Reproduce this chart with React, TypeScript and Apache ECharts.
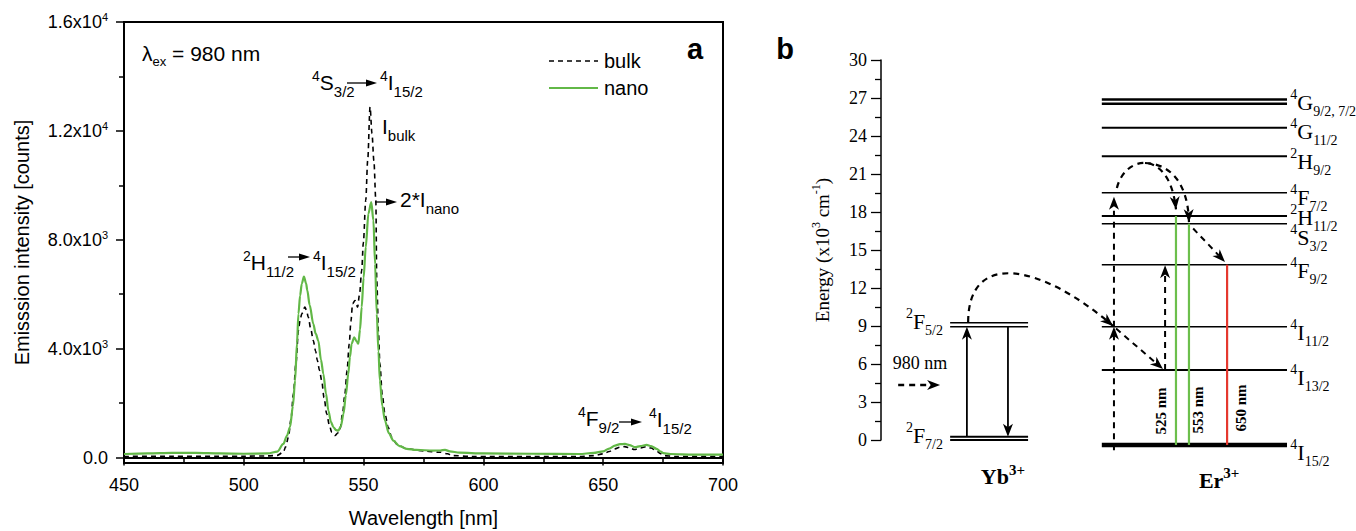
import { useEffect, useRef } from 'react';
import * as echarts from 'echarts';

const SANS = '"Liberation Sans", Arial, Helvetica, sans-serif';
const SERIF = '"Liberation Serif", "Times New Roman", Times, serif';
const SPEC_GREEN = '#62b847';
const LINE_GREEN = '#6cbf4c';
const LINE_RED = '#e5382e';
const diagramColors = ['#000000', LINE_GREEN, LINE_RED];

// ---------- Panel a: emission spectra ----------
const bulkWavelength = [450, 470, 490, 500, 510, 514, 516.5, 517.5, 518.6, 519.7, 520.7, 521.8, 522.8, 523.5, 524.2, 525.5, 526.2, 526.9, 528, 529, 530, 530.7, 531.6, 532.5, 533.5, 534.6, 535.7, 536.7, 538.1, 539.2, 540.2, 541.2, 542.2, 543.1, 544.0, 544.7, 545.4, 546.4, 547.5, 548.3, 549.2, 549.9, 550.9, 551.7, 552.7, 553.5, 554.3, 555.1, 555.5, 556.2, 556.8, 557.8, 558.9, 560.3, 561.7, 564, 568, 575, 582, 585, 587, 595, 620, 640, 646, 650, 652.5, 654.9, 657, 659, 661, 663, 665.5, 668, 670, 672, 674, 675, 680, 700];
const bulkIntensity = [40, 50, 50, 50, 60, 80, 200, 400, 746, 1400, 2340, 3500, 4670, 5050, 5280, 5525, 5400, 5160, 4700, 4300, 3900, 3566, 3200, 2830, 2200, 1606, 1200, 930, 810, 900, 1055, 1600, 2340, 3200, 4180, 5000, 5650, 5770, 5525, 6000, 6870, 7900, 9450, 10900, 12880, 11900, 10900, 9450, 6500, 4600, 3444, 2300, 1606, 1100, 746, 480, 320, 240, 195, 140, 73, 40, 40, 40, 70, 135, 220, 320, 380, 400, 360, 295, 350, 400, 350, 257, 140, 75, 40, 40];
const nanoWavelength = [450, 460, 470, 480, 490, 500, 510, 514, 516.5, 518, 519.3, 520.5, 521.4, 522.2, 522.8, 523.5, 524.2, 525.1, 526.0, 526.5, 527.5, 529, 530, 531.1, 532.2, 533.2, 534.3, 535.3, 536.4, 537.4, 538.5, 539.5, 540.5, 541.6, 542.6, 543.6, 544.3, 545.0, 546.1, 547.0, 547.8, 548.5, 549.2, 550.0, 550.9, 552.0, 553.2, 554.1, 554.8, 555.5, 556.2, 556.8, 557.8, 558.9, 560.5, 562.4, 565, 568, 572, 579, 582, 584, 586, 590, 600, 620, 640, 646, 650, 652.5, 654.9, 657, 659.1, 661, 663.3, 665.5, 668.1, 670, 672.3, 674, 675.1, 678, 687.6, 700];
const nanoIntensity = [130, 150, 170, 170, 150, 140, 150, 220, 500, 800, 1115, 1900, 2830, 4200, 5280, 5950, 6385, 6650, 6400, 6140, 5600, 4915, 4550, 4300, 3600, 3077, 2350, 1728, 1300, 1114, 1010, 990, 1150, 1606, 2300, 3077, 3700, 4180, 4420, 4280, 4180, 4700, 5525, 6600, 7730, 8960, 9380, 8710, 7100, 5280, 3900, 2830, 1900, 1360, 900, 625, 420, 320, 280, 257, 260, 280, 230, 180, 150, 140, 130, 170, 230, 330, 440, 490, 500, 460, 380, 420, 465, 420, 320, 220, 160, 130, 110, 110];

const yTickValues = [0, 4000, 8000, 12000, 16000];
const yTickLabels = ['0.0', '4.0x10^3', '8.0x10^3', '1.2x10^4', '1.6x10^4'];
const yMinorTickValues = [2000, 6000, 10000, 14000];
const legendNames = ['bulk', 'nano'];

// ---------- Panel b: energy level diagram ----------
const ybSpan = [16.5, 35.1];
const ybLevelEnergy = [9.26, 8.94, 0.26, 0];
const ybLevelWidth = [1.5, 1.5, 2, 2];
const ybLabels = [['2', 'F', '5/2'], ['2', 'F', '7/2']];
const ybLabelEnergy = [9.36, 0.32];

const erSpan = [52.7, 96.9];
const erLevelEnergy = [26.88, 26.55, 24.65, 22.4, 19.52, 17.68, 17.08, 13.84, 8.94, 5.53, -0.39];
const erLevelWidth = [2.5, 2.5, 2, 2, 1.5, 2, 1.5, 1.5, 1.5, 2, 4.5];
const erLabels = [['4', 'G', '9/2, 7/2'], ['4', 'G', '11/2'], ['2', 'H', '9/2'], ['4', 'F', '7/2'], ['2', 'H', '11/2'], ['4', 'S', '3/2'], ['4', 'F', '9/2'], ['4', 'I', '11/2'], ['4', 'I', '13/2'], ['4', 'I', '15/2']];
const erLabelEnergy = [26.61, 24.39, 21.95, 19.15, 17.55, 16.0, 13.42, 8.45, 4.97, -0.95];

// [x1, E1, x2, E2, dashed, colour, arrowhead, width]
const transitions = [
  [20.5, 0.26, 20.5, 8.94, 0, 0, 1, 1.8],
  [30.3, 8.94, 30.3, 0.26, 0, 0, 1, 1.8],
  [4.1, 4.34, 14.1, 4.34, 1, 0, 1, 2.4],
  [70.4, -0.39, 70.4, 17.68, 0, 1, 0, 2.2],
  [73.5, -0.39, 73.5, 17.08, 0, 1, 0, 2.2],
  [82.6, -0.39, 82.6, 13.84, 0, 2, 0, 2.2],
  [55.6, -0.8, 55.6, 8.94, 1, 0, 1, 2],
  [55.6, 8.94, 55.6, 19.2, 1, 0, 1, 2],
  [67.8, 5.53, 67.8, 13.8, 1, 0, 1, 2],
  [56.1, 8.8, 67.3, 5.6, 1, 0, 1, 2],
  [74.5, 16.7, 82.1, 14.05, 1, 0, 1, 2],
];
// cubic energy-transfer arcs: [x0, E0, cx1, cE1, cx2, cE2, x3, E3]
const transferArcs = [
  [20.8, 9.3, 20.8, 14.97, 37.9, 14.0, 55.4, 9.0],
  [56.3, 19.9, 58.2, 22.5, 68.9, 23.1, 70.4, 18.2],
  [63.0, 21.87, 69.5, 21.8, 73.3, 20.1, 73.5, 17.2],
];
const emissionLabels = ['525 nm', '553 nm', '650 nm'];
const emissionLabelPos = [[66.8, 2.29], [75.7, 2.37], [85.9, 2.53]];
const ionLabels = [['Yb', '3+'], ['Er', '3+']];
const ionLabelPos = [[29.1, -2.92], [80.7, -3.16]];
const pumpLabelPos = [9.3, 6.08];

type Cfg = { M: number; P: number; S: number; a: number; b: number; family: string; weight?: string };
let measureCtx: CanvasRenderingContext2D | null = null;
function measure(t: string, size: number, family: string, weight = 'normal') {
  if (!measureCtx) measureCtx = document.createElement('canvas').getContext('2d');
  if (!measureCtx) return t.length * size * 0.5;
  measureCtx.font = `${weight} ${size}px ${family}`;
  return measureCtx.measureText(t).width;
}
// segments: [kind, text] with kind 'm' (main), 'p' (superscript), 's' (subscript)
function scripted(x: number, y: number, segs: string[][], cfg: Cfg, align = 'left'): any[] {
  const w = cfg.weight || 'normal';
  const info = segs.map(([k, t]) => {
    const size = k === 'p' ? cfg.P : k === 's' ? cfg.S : cfg.M;
    const dy = k === 'p' ? -cfg.a : k === 's' ? cfg.b : 0;
    return { t, size, dy, width: measure(t, size, cfg.family, w) };
  });
  const total = info.reduce((s, i) => s + i.width, 0);
  let cx = align === 'right' ? x - total : align === 'center' ? x - total / 2 : x;
  return info.map((i) => {
    const el = { type: 'text', x: cx, y: y + i.dy, style: { text: i.t, fill: '#000', fontSize: i.size, fontFamily: cfg.family, fontWeight: w, align: 'left', verticalAlign: 'middle' } };
    cx += i.width;
    return el;
  });
}
const lvl = (t: string[]) => [['p', t[0]], ['m', t[1]], ['s', t[2]]];

function richSet(M: number, P: number, a: number, family: string) {
  const H = Math.max(M, 2 * (a + P / 2));
  const supPad = H / 2 + a - P / 2;
  return {
    m: { fontSize: M, fontFamily: family, lineHeight: H, verticalAlign: 'middle', color: '#000' },
    p: { fontSize: P, fontFamily: family, padding: [0, 0, supPad, 0], verticalAlign: 'bottom', color: '#000' },
  };
}

function head(tip: number[], ux: number, uy: number, L: number, W: number, color: string, notch = 0.72) {
  const nx = -uy, ny = ux;
  const bx = tip[0] - ux * L, by = tip[1] - uy * L;
  return {
    type: 'polygon',
    shape: { points: [[tip[0], tip[1]], [bx + nx * W, by + ny * W], [tip[0] - ux * L * notch, tip[1] - uy * L * notch], [bx - nx * W, by - ny * W]] },
    style: { fill: color },
  };
}

function hArrow(x1: number, y: number, x2: number) {
  return [
    { type: 'line', shape: { x1, y1: y, x2: x2 - 8, y2: y }, style: { stroke: '#000', lineWidth: 1.3 } },
    head([x2, y], 1, 0, 11, 3.6, '#000', 1),
  ];
}

export default function App() {
  const ref = useRef<HTMLDivElement>(null);
  useEffect(() => {
    if (!ref.current) return;
    const chart = echarts.init(ref.current, null, { renderer: 'svg' });
    const ann: Cfg = { M: 21, P: 14, S: 15, a: 6.5, b: 9.5, family: SANS };
    const lam: Cfg = { M: 21, P: 13, S: 13, a: 6, b: 8, family: SANS };
    const levelCfg: Cfg = { M: 22, P: 14, S: 14, a: 8, b: 9, family: SERIF };
    const ionCfg: Cfg = { M: 22, P: 15, S: 15, a: 7, b: 9, family: SERIF, weight: 'bold' };
    const tickRich = richSet(18, 11, 4.7, SANS);
    const energyNameRich = richSet(19, 12, 6, SERIF);

    const graphic: any[] = [
      ...scripted(142, 53, [['m', 'λ'], ['s', 'ex'], ['m', ' = 980 nm']], lam),
      ...scripted(312, 82, lvl(['4', 'S', '3/2']), ann),
      ...hArrow(347, 83, 377),
      ...scripted(380, 82, lvl(['4', 'I', '15/2']), ann),
      ...scripted(382, 126, [['m', 'I'], ['s', 'bulk']], ann),
      ...hArrow(375, 202, 397),
      ...scripted(400, 199, [['m', '2*I'], ['s', 'nano']], ann),
      ...scripted(243, 262, lvl(['2', 'H', '11/2']), ann),
      ...hArrow(288, 257, 310),
      ...scripted(313, 262, lvl(['4', 'I', '15/2']), ann),
      ...scripted(578, 418, lvl(['4', 'F', '9/2']), ann),
      ...hArrow(619, 422, 642),
      ...scripted(649, 419, lvl(['4', 'I', '15/2']), ann),
      // legend
      { type: 'line', shape: { x1: 549, y1: 61, x2: 598, y2: 61 }, style: { stroke: '#000', lineWidth: 1.6, lineDash: [5, 4] } },
      { type: 'text', x: 604, y: 61, style: { text: legendNames[0], fill: '#000', fontSize: 20, fontFamily: SANS, align: 'left', verticalAlign: 'middle' } },
      { type: 'line', shape: { x1: 549, y1: 88, x2: 598, y2: 88 }, style: { stroke: SPEC_GREEN, lineWidth: 2.2 } },
      { type: 'text', x: 604, y: 88, style: { text: legendNames[1], fill: '#000', fontSize: 20, fontFamily: SANS, align: 'left', verticalAlign: 'middle' } },
      { type: 'text', x: 695, y: 49, style: { text: 'a', fill: '#000', fontFamily: SANS, fontWeight: 'bold', fontSize: 29, align: 'center', verticalAlign: 'middle' } },
      { type: 'text', x: 785, y: 49, style: { text: 'b', fill: '#000', fontFamily: SANS, fontWeight: 'bold', fontSize: 29, align: 'center', verticalAlign: 'middle' } },
    ];

    const levelSeries = (span: number[], energies: number[], widths: number[]) => ({
      type: 'custom', xAxisIndex: 1, yAxisIndex: 2, clip: false, silent: true,
      data: energies.map((e, i) => [span[0], e, span[1], widths[i]]),
      renderItem: (_p: any, api: any) => {
        const a = api.coord([api.value(0), api.value(1)]);
        const b = api.coord([api.value(2), api.value(1)]);
        return { type: 'line', shape: { x1: a[0], y1: a[1], x2: b[0], y2: b[1] }, style: { stroke: '#000', lineWidth: api.value(3) } };
      },
    });
    const labelSeries = (x: number, energies: number[], labels: string[][], align: string) => ({
      type: 'custom', xAxisIndex: 1, yAxisIndex: 2, clip: false, silent: true,
      data: energies.map((e) => [x, e]),
      renderItem: (p: any, api: any) => {
        const c = api.coord([api.value(0), api.value(1)]);
        return { type: 'group', children: scripted(c[0], c[1], lvl(labels[p.dataIndex]), levelCfg, align) };
      },
    });

    const option: any = {
      animation: false,
      backgroundColor: '#ffffff',
      grid: [
        { left: 124, top: 22, width: 599, height: 441, show: true, borderColor: '#000', borderWidth: 2, backgroundColor: 'transparent', outerBoundsMode: 'none' },
        { left: 881, top: 60, width: 419, height: 380, show: false, outerBoundsMode: 'none' },
      ],
      xAxis: [
        {
          gridIndex: 0, type: 'value', min: 450, max: 700, interval: 50,
          name: 'Wavelength [nm]', nameLocation: 'middle', nameGap: 45,
          nameTextStyle: { fontSize: 20, fontFamily: SANS, color: '#000' },
          axisLine: { show: true, lineStyle: { color: '#000', width: 2 } },
          axisTick: { show: true, length: 8, lineStyle: { color: '#000', width: 1.5 } },
          minorTick: { show: true, splitNumber: 2, length: 5, lineStyle: { color: '#000', width: 1.5 } },
          axisLabel: { fontSize: 18, fontFamily: SANS, color: '#000', margin: 13 },
          splitLine: { show: false }, minorSplitLine: { show: false },
        },
        { gridIndex: 1, type: 'value', min: 0, max: 100, show: false },
      ],
      yAxis: [
        {
          gridIndex: 0, type: 'value', min: -200, max: 16000, position: 'left',
          name: 'Emisssion intensity [counts]', nameLocation: 'middle', nameGap: 92, nameRotate: 90,
          nameTextStyle: { fontSize: 20, fontFamily: SANS, color: '#000' },
          axisLine: { show: true, lineStyle: { color: '#000', width: 2 } },
          axisTick: { show: true, customValues: yTickValues, length: 8, lineStyle: { color: '#000', width: 1.5 } },
          axisLabel: {
            customValues: yTickValues, margin: 16, color: '#000', fontFamily: SANS, fontSize: 18, rich: tickRich,
            formatter: (v: number) => {
              const i = yTickValues.indexOf(v);
              if (i < 0) return '';
              const [m, e] = yTickLabels[i].split('^');
              return e ? `{m|${m}}{p|${e}}` : `{m|${m}}`;
            },
          },
          splitLine: { show: false },
        },
        {
          gridIndex: 0, type: 'value', min: -200, max: 16000, position: 'left', offset: 0,
          axisLine: { show: false },
          axisTick: { show: true, customValues: yMinorTickValues, length: 5, lineStyle: { color: '#000', width: 1.5 } },
          axisLabel: { show: false }, splitLine: { show: false },
        },
        {
          gridIndex: 1, type: 'value', min: 0, max: 30, interval: 3, position: 'left',
          name: '{m|Energy (x10}{p|3}{m| cm}{p|-1}{m|)}', nameLocation: 'middle', nameGap: 47, nameRotate: 90,
          nameTextStyle: { fontSize: 19, fontFamily: SERIF, color: '#000', rich: energyNameRich },
          axisLine: { show: true, lineStyle: { color: '#000', width: 1.5 } },
          axisTick: { show: true, length: 10, lineStyle: { color: '#000', width: 1.3 } },
          minorTick: { show: true, splitNumber: 2, length: 6, lineStyle: { color: '#000', width: 1.3 } },
          axisLabel: { fontSize: 18, fontFamily: SERIF, color: '#000', margin: 14 },
          splitLine: { show: false }, minorSplitLine: { show: false },
        },
      ],
      series: [
        {
          type: 'line', name: 'bulk', xAxisIndex: 0, yAxisIndex: 0,
          data: bulkWavelength.map((w, i) => [w, bulkIntensity[i]]),
          symbol: 'none', showSymbol: false, smooth: 0.3, smoothMonotone: 'x',
          lineStyle: { color: '#000', width: 1.6, type: [5, 4] }, itemStyle: { color: '#000' },
        },
        {
          type: 'line', name: 'nano', xAxisIndex: 0, yAxisIndex: 0,
          data: nanoWavelength.map((w, i) => [w, nanoIntensity[i]]),
          symbol: 'none', showSymbol: false, smooth: 0.3, smoothMonotone: 'x',
          lineStyle: { color: SPEC_GREEN, width: 2.2 }, itemStyle: { color: SPEC_GREEN },
        },
        levelSeries(ybSpan, ybLevelEnergy, ybLevelWidth),
        levelSeries(erSpan, erLevelEnergy, erLevelWidth),
        labelSeries(ybSpan[0] - 1.7, ybLabelEnergy, ybLabels, 'right'),
        labelSeries(erSpan[1] + 0.8, erLabelEnergy, erLabels, 'left'),
        {
          type: 'custom', xAxisIndex: 1, yAxisIndex: 2, clip: false, silent: true,
          data: transitions,
          renderItem: (_p: any, api: any) => {
            const a = api.coord([api.value(0), api.value(1)]);
            const b = api.coord([api.value(2), api.value(3)]);
            const dashed = api.value(4) === 1;
            const color = diagramColors[api.value(5)];
            const hasHead = api.value(6) === 1;
            const w = api.value(7);
            const dx = b[0] - a[0], dy = b[1] - a[1];
            const len = Math.hypot(dx, dy) || 1;
            const ux = dx / len, uy = dy / len;
            const L = 13, W = 5;
            const end = hasHead ? [b[0] - ux * L * 0.7, b[1] - uy * L * 0.7] : b;
            const children: any[] = [
              { type: 'line', shape: { x1: a[0], y1: a[1], x2: end[0], y2: end[1] }, style: { stroke: color, lineWidth: w, lineDash: dashed ? [6, 5] : null } },
            ];
            if (hasHead) children.push(head(b, ux, uy, L, W, color));
            return { type: 'group', children };
          },
        },
        {
          type: 'custom', xAxisIndex: 1, yAxisIndex: 2, clip: false, silent: true,
          data: transferArcs,
          renderItem: (_p: any, api: any) => {
            const p0 = api.coord([api.value(0), api.value(1)]);
            const p1 = api.coord([api.value(2), api.value(3)]);
            const p2 = api.coord([api.value(4), api.value(5)]);
            const p3 = api.coord([api.value(6), api.value(7)]);
            const dx = p3[0] - p2[0], dy = p3[1] - p2[1];
            const len = Math.hypot(dx, dy) || 1;
            return {
              type: 'group',
              children: [
                { type: 'bezierCurve', shape: { x1: p0[0], y1: p0[1], cpx1: p1[0], cpy1: p1[1], cpx2: p2[0], cpy2: p2[1], x2: p3[0], y2: p3[1] }, style: { stroke: '#000', fill: null, lineWidth: 2.2, lineDash: [6, 5] } },
                head(p3, dx / len, dy / len, 13, 5, '#000'),
              ],
            };
          },
        },
        {
          type: 'custom', xAxisIndex: 1, yAxisIndex: 2, clip: false, silent: true,
          data: emissionLabelPos,
          renderItem: (p: any, api: any) => {
            const c = api.coord([api.value(0), api.value(1)]);
            return { type: 'text', x: c[0], y: c[1], rotation: Math.PI / 2, style: { text: emissionLabels[p.dataIndex], fill: '#000', fontFamily: SERIF, fontWeight: 'bold', fontSize: 15, align: 'center', verticalAlign: 'middle' } };
          },
        },
        {
          type: 'custom', xAxisIndex: 1, yAxisIndex: 2, clip: false, silent: true,
          data: ionLabelPos,
          renderItem: (p: any, api: any) => {
            const c = api.coord([api.value(0), api.value(1)]);
            const t = ionLabels[p.dataIndex];
            return { type: 'group', children: scripted(c[0], c[1], [['m', t[0]], ['p', t[1]]], ionCfg, 'center') };
          },
        },
        {
          type: 'custom', xAxisIndex: 1, yAxisIndex: 2, clip: false, silent: true,
          data: [pumpLabelPos],
          renderItem: (_p: any, api: any) => {
            const c = api.coord([api.value(0), api.value(1)]);
            return { type: 'text', x: c[0], y: c[1], style: { text: '980 nm', fill: '#000', fontFamily: SERIF, fontSize: 18, align: 'center', verticalAlign: 'middle' } };
          },
        },
      ],
      graphic,
    };
    chart.setOption(option);
    return () => chart.dispose();
  }, []);
  return <div ref={ref} style={{ position: 'fixed', left: 0, top: 0, width: 1356, height: 531, background: '#fff' }} />;
}
